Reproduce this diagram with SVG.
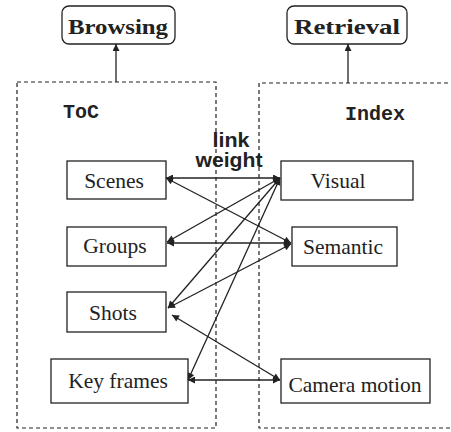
<svg xmlns="http://www.w3.org/2000/svg" width="451" height="432" viewBox="0 0 451 432">
<defs>
<marker id="ah" viewBox="0 0 10 10" refX="10" refY="5" markerWidth="10" markerHeight="7" markerUnits="userSpaceOnUse" orient="auto-start-reverse">
<path d="M0,0 L10,5 L0,10 z" fill="#222"/>
</marker>
<style>
.box{fill:#fff;stroke:#222;stroke-width:1.3}
.dash{fill:none;stroke:#222;stroke-width:1.2;stroke-dasharray:4 3}
.lbl{font-family:"Liberation Serif",serif;font-size:21.5px;fill:#222;text-anchor:middle}
.top{font-family:"Liberation Serif",serif;font-size:22px;font-weight:bold;fill:#222;text-anchor:middle}
.mono{font-family:"Liberation Mono",monospace;font-size:20px;font-weight:bold;fill:#222}
.sans{font-family:"Liberation Sans",sans-serif;font-size:20px;font-weight:bold;fill:#222;text-anchor:middle}
.con{fill:none;stroke:#222;stroke-width:1.3}
</style>
</defs>
<rect width="451" height="432" fill="#fff"/>
<g id="toc-panel">
<rect class="dash" x="17" y="82" width="199" height="346"/>
<text class="mono" x="63" y="118">ToC</text>
</g>
<g id="index-panel">
<path class="dash" d="M455,83 H259 V428 H455"/>
<text class="mono" x="345" y="120">Index</text>
</g>
<g id="browsing">
<rect class="box" x="62" y="6" width="113" height="38" rx="7"/>
<text class="top" x="118" y="34" textLength="100" lengthAdjust="spacingAndGlyphs">Browsing</text>
</g>
<g id="retrieval">
<rect class="box" x="287" y="6" width="120" height="38" rx="7"/>
<text class="top" x="347" y="34" textLength="106" lengthAdjust="spacingAndGlyphs">Retrieval</text>
</g>
<g id="link-weight">
<text class="sans" x="231" y="147" textLength="37" lengthAdjust="spacingAndGlyphs">link</text>
<text class="sans" x="229" y="167" textLength="67" lengthAdjust="spacingAndGlyphs">weight</text>
</g>
<g id="scenes">
<rect class="box" x="67" y="161" width="99" height="38"/>
<text class="lbl" x="114" y="188">Scenes</text>
</g>
<g id="groups">
<rect class="box" x="67" y="227" width="99" height="39"/>
<text class="lbl" x="115" y="253">Groups</text>
</g>
<g id="shots">
<rect class="box" x="67" y="292" width="99" height="40"/>
<text class="lbl" x="113" y="320">Shots</text>
</g>
<g id="keyframes">
<rect class="box" x="51" y="359" width="137" height="44"/>
<text class="lbl" x="118" y="388">Key frames</text>
</g>
<g id="visual">
<rect class="box" x="281" y="161" width="132" height="39"/>
<text class="lbl" x="338" y="188">Visual</text>
</g>
<g id="semantic">
<rect class="box" x="292" y="227" width="105" height="39"/>
<text class="lbl" x="343" y="254">Semantic</text>
</g>
<g id="camera">
<rect class="box" x="281" y="359" width="149" height="44"/>
<text class="lbl" x="355" y="392">Camera motion</text>
</g>
<g id="connectors">
<line class="con" x1="116" y1="82" x2="116" y2="44" marker-end="url(#ah)"/>
<line class="con" x1="348" y1="83" x2="348" y2="44" marker-end="url(#ah)"/>
<line class="con" x1="166" y1="178" x2="280" y2="178" marker-start="url(#ah)" marker-end="url(#ah)"/>
<line class="con" x1="166" y1="178" x2="291" y2="243" marker-start="url(#ah)" marker-end="url(#ah)"/>
<line class="con" x1="167" y1="242" x2="280" y2="178" marker-start="url(#ah)" marker-end="url(#ah)"/>
<line class="con" x1="167" y1="243" x2="291" y2="243" marker-start="url(#ah)" marker-end="url(#ah)"/>
<line class="con" x1="168" y1="308" x2="280" y2="178" marker-start="url(#ah)" marker-end="url(#ah)"/>
<line class="con" x1="168" y1="308" x2="291" y2="244" marker-start="url(#ah)" marker-end="url(#ah)"/>
<line class="con" x1="188" y1="380" x2="280" y2="178" marker-start="url(#ah)" marker-end="url(#ah)"/>
<line class="con" x1="172" y1="315" x2="280" y2="380" marker-start="url(#ah)" marker-end="url(#ah)"/>
<line class="con" x1="188" y1="380" x2="280" y2="380" marker-start="url(#ah)" marker-end="url(#ah)"/>
</g>
</svg>
